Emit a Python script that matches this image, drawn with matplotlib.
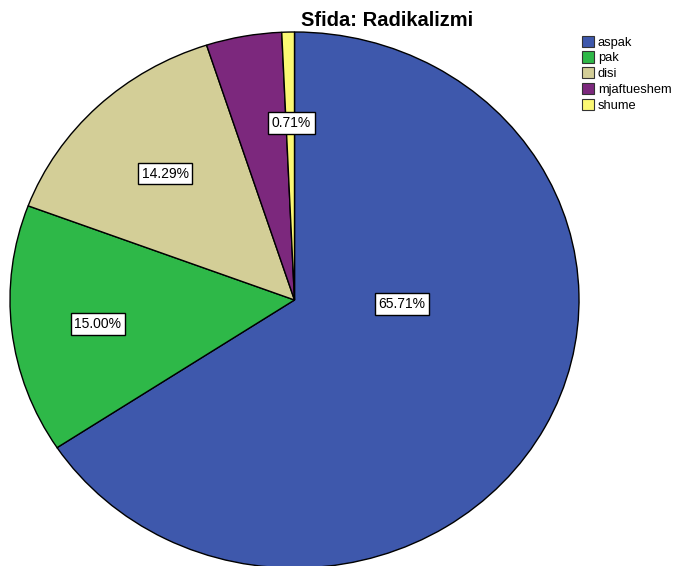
import matplotlib
matplotlib.use("Agg")
import matplotlib.pyplot as plt
from matplotlib.patches import Patch

plt.rcParams['font.family'] = ['Liberation Sans', 'DejaVu Sans']

categories = ["aspak", "pak", "disi", "mjaftueshem", "shume"]
counts = [92, 21, 20, 6, 1]
colors = ["#3E58AC", "#2EB848", "#D3CE97", "#7C287D", "#FBF873"]
show_label = [True, True, True, False, True]
# label positions (layout, in axes data coords)
label_pos = [(0.378, -0.015), (-0.691, -0.090), (-0.455, 0.472), None, (-0.011, 0.660)]

W, H = 674, 566
fig = plt.figure(figsize=(W / 100, H / 100), dpi=100)
L = 1.05
cx, cy, rx, ry = 294.5, 300.0, 284.5, 268.0
left = (cx - rx * L) / W
width = 2 * rx * L / W
bottom = (H - (cy + ry * L)) / H
height = 2 * ry * L / H
ax = fig.add_axes([left, bottom, width, height])

total = sum(counts)
wedges, _ = ax.pie(counts, colors=colors, startangle=90, counterclock=False,
                   wedgeprops=dict(edgecolor="black", linewidth=1.0))
ax.set_aspect('auto')
ax.set_xlim(-L, L)
ax.set_ylim(-L, L)
ax.axis('off')

for c, show, pos in zip(counts, show_label, label_pos):
    if not show or pos is None:
        continue
    ax.text(pos[0], pos[1], f"{100 * c / total:.2f}%", ha='center', va='center',
            fontsize=10, color='black',
            bbox=dict(boxstyle='square,pad=0.28', facecolor='white',
                      edgecolor='black', linewidth=1.0))

fig.text(387 / W, 1 - 20 / H, "Sfida: Radikalizmi", ha='center', va='center',
         fontsize=14.5, fontweight='bold')

handles = [Patch(facecolor=col, edgecolor='#333333', linewidth=0.8) for col in colors]
fig.legend(handles, categories, loc='upper left',
           bbox_to_anchor=(579 / W, 1 - 33 / H), frameon=False,
           fontsize=9.3, handlelength=0.95, handleheight=0.95, handletextpad=0.3,
           labelspacing=0.22, borderpad=0.2, borderaxespad=0)

fig.savefig("out.png", dpi=100)
